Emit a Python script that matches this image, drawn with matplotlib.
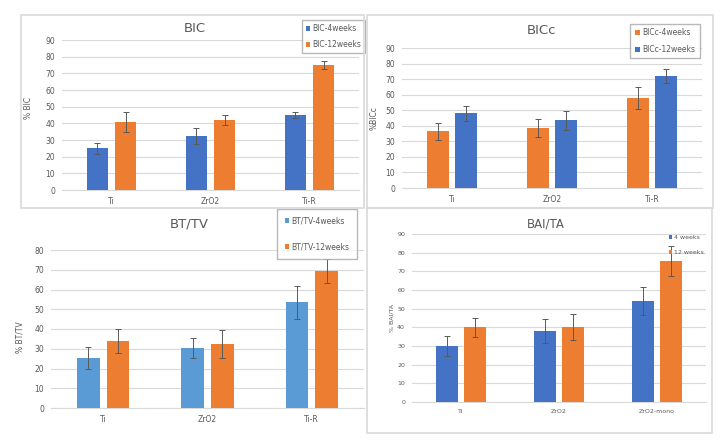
import matplotlib
matplotlib.use("Agg")
import matplotlib.pyplot as plt
from matplotlib.patches import Rectangle
import numpy as np

W, H = 728, 447

BLUE = "#4472C4"
ORANGE = "#ED7D31"
LIGHT_BLUE = "#5B9BD5"
TEXT = "#595959"
GRID = "#D9D9D9"

# BIC
bic_cats = ["Ti", "ZrO2", "Ti-R"]
bic_4w = [25, 32.5, 45]
bic_4w_err = [3.5, 5, 2]
bic_12w = [41, 42, 75]
bic_12w_err = [6, 3.3, 2.3]

# BICc
bicc_cats = ["Ti", "ZrO2", "Ti-R"]
bicc_4w = [36.5, 38.5, 58]
bicc_4w_err = [5.5, 6, 7]
bicc_12w = [48, 43.5, 72]
bicc_12w_err = [5, 6.3, 4.7]

# BT/TV
bttv_cats = ["Ti", "ZrO2", "Ti-R"]
bttv_4w = [25.5, 30.5, 53.5]
bttv_4w_err = [5.5, 5, 8.3]
bttv_12w = [34, 32.5, 69.5]
bttv_12w_err = [6, 7.2, 6]

# BAI/TA
bai_cats = ["Ti", "ZrO2", "ZrO2-mono"]
bai_4w = [30, 38, 54]
bai_4w_err = [5.5, 6.2, 7.5]
bai_12w = [40, 40, 75.5]
bai_12w_err = [5.2, 7, 8]


def px_axes(fig, left, top, right, bottom):
    return fig.add_axes([left / W, 1 - bottom / H, (right - left) / W, (bottom - top) / H])


def panel_box(fig, left, top, right, bottom):
    fig.patches.append(Rectangle((left / W, 1 - bottom / H), (right - left) / W, (bottom - top) / H,
                                 transform=fig.transFigure, fill=False, edgecolor=GRID, lw=1.2))


def bar_panel(ax, cats, v1, e1, v2, e2, c1, c2, l1, l2, ymax, ylabel, label_x, label_y, fs=5.5):
    x = np.arange(len(cats))
    w = 0.22
    off = 0.142
    ek = dict(ecolor=TEXT, elinewidth=0.7, capsize=2, capthick=0.7)
    ax.bar(x - off, v1, w, yerr=e1, color=c1, label=l1, error_kw=ek, zorder=3)
    ax.bar(x + off, v2, w, yerr=e2, color=c2, label=l2, error_kw=ek, zorder=3)
    ax.set_xlim(-0.5, len(cats) - 0.5)
    ax.set_ylim(0, ymax)
    ax.set_yticks(np.arange(0, ymax + 1, 10))
    ax.set_xticks(x)
    ax.set_xticklabels(cats)
    ax.grid(axis="y", color=GRID, lw=0.8, zorder=0)
    for s in ["top", "right", "left"]:
        ax.spines[s].set_visible(False)
    ax.spines["bottom"].set_color(GRID)
    ax.tick_params(length=0, labelsize=fs, labelcolor=TEXT, pad=5)
    ax.set_ylabel(ylabel, fontsize=fs, color=TEXT)
    ax.yaxis.set_label_coords(label_x, label_y)


def title_px(fig, text, xc, yc, size=9.5):
    fig.text(xc / W, 1 - yc / H, text, ha="center", va="center", fontsize=size, color=TEXT)


fig = plt.figure(figsize=(W / 100, H / 100), dpi=100)

panel_box(fig, 21, 15, 364, 208)
panel_box(fig, 367, 15, 713, 208)
panel_box(fig, 367, 208, 712, 433)

ax1 = px_axes(fig, 62, 40, 359, 190)
bar_panel(ax1, bic_cats, bic_4w, bic_4w_err, bic_12w, bic_12w_err, BLUE, ORANGE,
          "BIC-4weeks", "BIC-12weeks", 90, "% BIC", -0.098, 0.55)
title_px(fig, "BIC", 195, 29)
ax1.legend(loc="center", bbox_to_anchor=(333.5 / W, 1 - 36.5 / H), bbox_transform=fig.transFigure,
           fontsize=5.5, labelcolor=TEXT, frameon=True, fancybox=False, edgecolor="#A6A6A6",
           handlelength=0.6, handleheight=0.6, handletextpad=0.3, borderpad=0.5, labelspacing=0.9)

ax2 = px_axes(fig, 402, 48, 702, 188)
bar_panel(ax2, bicc_cats, bicc_4w, bicc_4w_err, bicc_12w, bicc_12w_err, ORANGE, BLUE,
          "BICc-4weeks", "BICc-12weeks", 90, "%BICc", -0.077, 0.5)
title_px(fig, "BICc", 541, 31)
ax2.legend(loc="center", bbox_to_anchor=(665 / W, 1 - 41 / H), bbox_transform=fig.transFigure,
           fontsize=5.5, labelcolor=TEXT, frameon=True, fancybox=False, edgecolor="#A6A6A6",
           handlelength=0.6, handleheight=0.6, handletextpad=0.3, borderpad=0.6, labelspacing=1.0)

ax3 = px_axes(fig, 51, 250, 364, 408)
bar_panel(ax3, bttv_cats, bttv_4w, bttv_4w_err, bttv_12w, bttv_12w_err, LIGHT_BLUE, ORANGE,
          "BT/TV-4weeks", "BT/TV-12weeks", 80, "% BT/TV", -0.086, 0.45)
title_px(fig, "BT/TV", 189, 224)
ax3.legend(loc="center", bbox_to_anchor=(317 / W, 1 - 234 / H), bbox_transform=fig.transFigure,
           fontsize=5.5, labelcolor=TEXT, frameon=True, fancybox=False, edgecolor="#A6A6A6",
           handlelength=0.6, handleheight=0.6, handletextpad=0.3, borderpad=1.0, labelspacing=2.2)

ax4 = px_axes(fig, 412, 234, 706, 402)
bar_panel(ax4, bai_cats, bai_4w, bai_4w_err, bai_12w, bai_12w_err, BLUE, ORANGE,
          "4 weeks", "12 weeks", 90, "% BAI/TA", -0.061, 0.5, fs=4.5)
title_px(fig, "BAI/TA", 546, 224, size=8.5)
ax4.legend(loc="center", bbox_to_anchor=(686 / W, 1 - 245 / H), bbox_transform=fig.transFigure,
           fontsize=4.5, labelcolor=TEXT, frameon=False,
           handlelength=0.5, handleheight=0.5, handletextpad=0.3, labelspacing=1.6)

fig.savefig("out.png", dpi=100, facecolor="white")
